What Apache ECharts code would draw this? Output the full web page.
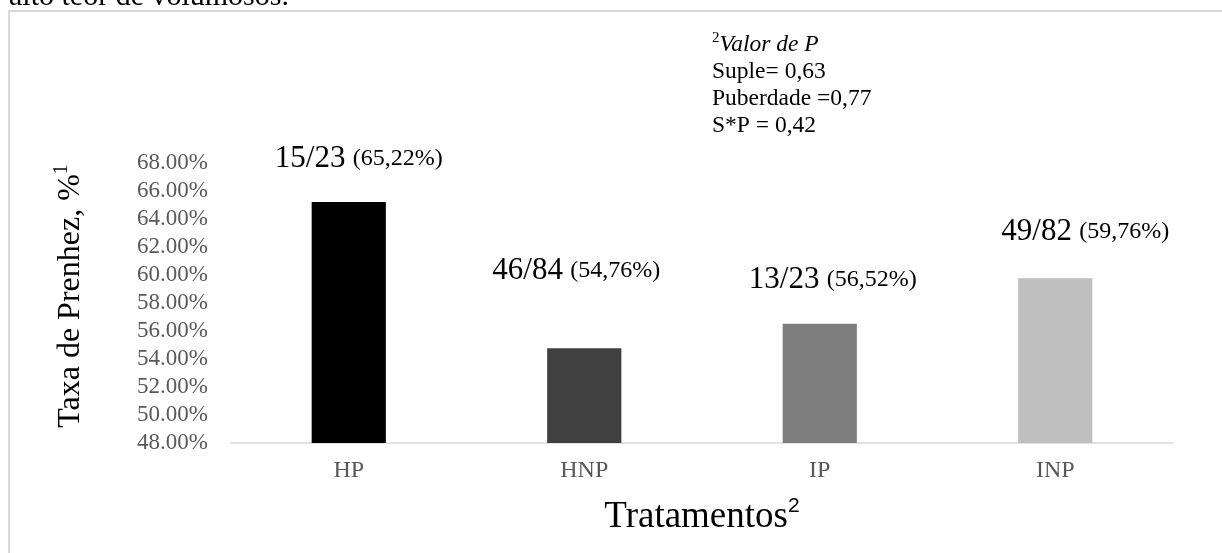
<!DOCTYPE html>
<html>
<head>
<meta charset="utf-8">
<script src="https://cdn.jsdelivr.net/npm/echarts@6/dist/echarts.min.js"></script>
<style>
  html, body { margin: 0; padding: 0; background: #ffffff; }
  #chart { width: 1222px; height: 553px; }
</style>
</head>
<body>
<div id="chart"></div>
<script>
// Treatments and pregnancy rates (%)
const categories = ['HP', 'HNP', 'IP', 'INP'];
const rates = [65.22, 54.76, 56.52, 59.76];
const ratios = ['15/23', '46/84', '13/23', '49/82'];
const yMin = 48;
const yMax = 68;
const yStep = 2;
const pValues = ['Suple= 0,63', 'Puberdade =0,77', 'S*P = 0,42'];

// Styling
const FONT = 'Liberation Serif, Times New Roman, serif';
const barColors = ['#000000', '#404040', '#7f7f7f', '#bfbfbf'];
const labelOffsets = [[10, -21], [-8, -56], [13, -22], [30, -25]];

const chart = echarts.init(document.getElementById('chart'), null, { renderer: 'canvas' });

chart.setOption({
  animation: false,
  backgroundColor: '#ffffff',
  grid: { left: 231, right: 49, top: 163, bottom: 110, containLabel: false },
  xAxis: {
    type: 'category',
    data: categories,
    boundaryGap: true,
    axisLine: { lineStyle: { color: '#d9d9d9', width: 1.5 } },
    axisTick: { show: false },
    axisLabel: { color: '#595959', fontFamily: FONT, fontSize: 24, margin: 16 },
    name: '{t|Tratamentos}{s|2}',
    nameLocation: 'middle',
    nameGap: 53,
    nameTextStyle: {
      rich: {
        t: { fontFamily: FONT, fontSize: 37, color: '#000000', lineHeight: 42 },
        s: { fontFamily: 'Liberation Sans, Arial, sans-serif', fontSize: 21, color: '#000000', verticalAlign: 'top', lineHeight: 32 }
      }
    }
  },
  yAxis: {
    type: 'value',
    min: yMin,
    max: yMax,
    interval: yStep,
    axisLine: { show: false },
    axisTick: { show: false },
    splitLine: { show: false },
    axisLabel: {
      color: '#595959',
      fontFamily: FONT,
      fontSize: 23,
      margin: 23,
      formatter: v => v.toFixed(2) + '%'
    },
    name: '{t|Taxa de Prenhez, %}{s|1}',
    nameLocation: 'middle',
    nameGap: 141,
    nameRotate: 90,
    nameTextStyle: {
      padding: [0, 0, 0, 14],
      rich: {
        t: { fontFamily: FONT, fontSize: 32, color: '#000000', lineHeight: 38 },
        s: { fontFamily: FONT, fontSize: 20, color: '#000000', verticalAlign: 'top', lineHeight: 30 }
      }
    }
  },
  series: [{
    type: 'bar',
    barWidth: '31.5%',
    data: rates.map((v, i) => ({
      value: v,
      itemStyle: { color: barColors[i] },
      label: { offset: labelOffsets[i] }
    })),
    label: {
      show: true,
      position: 'top',
      distance: 5,
      formatter: p => '{n|' + ratios[p.dataIndex] + '} {p|(' + p.value.toFixed(2).replace('.', ',') + '%)}',
      rich: {
        n: { fontFamily: FONT, fontSize: 31, color: '#000000', lineHeight: 34 },
        p: { fontFamily: FONT, fontSize: 24, color: '#000000', lineHeight: 34, padding: [0, 0, 0, 4] }
      }
    }
  }],
  graphic: [
    {
      type: 'rect',
      silent: true,
      shape: { x: 9, y: 11, width: 1240, height: 600 },
      style: { fill: 'none', stroke: '#d9d9d9', lineWidth: 2 }
    },
    {
      type: 'text',
      silent: true,
      x: 9,
      y: 12,
      style: {
        text: 'alto teor de volumosos.',
        font: '30px ' + FONT,
        fill: '#000000',
        verticalAlign: 'bottom'
      }
    },
    {
      type: 'text',
      silent: true,
      x: 712,
      y: 31,
      style: {
        text: '{s|2}{i|Valor de P}\n' + pValues.map(t => '{r|' + t + '}').join('\n'),
        fill: '#000000',
        rich: {
          s: { fontFamily: FONT, fontSize: 15, verticalAlign: 'top', lineHeight: 27 },
          i: { fontFamily: FONT, fontSize: 23.5, fontStyle: 'italic', lineHeight: 27 },
          r: { fontFamily: FONT, fontSize: 23.5, lineHeight: 27 }
        }
      }
    }
  ]
});
</script>
</body>
</html>
